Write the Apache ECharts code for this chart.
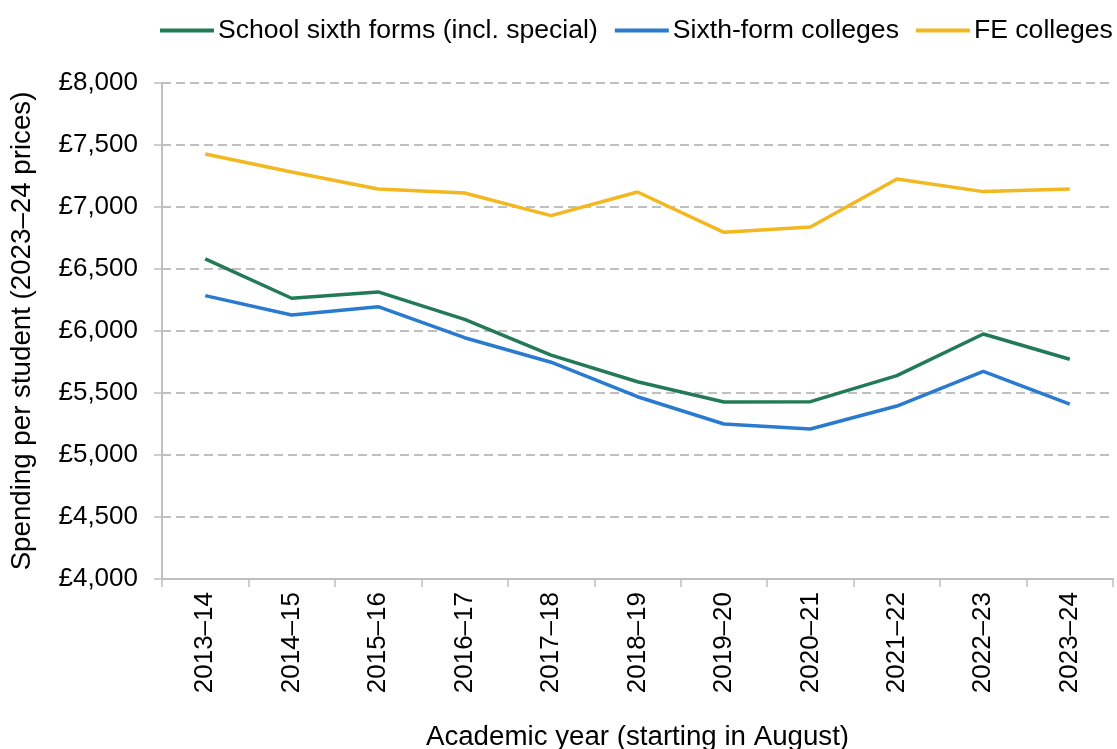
<!DOCTYPE html>
<html>
<head>
<meta charset="utf-8">
<script src="https://cdn.jsdelivr.net/npm/echarts@6/dist/echarts.min.js"></script>
<style>
  html, body { margin: 0; padding: 0; background: #fff; }
  #chart { width: 1117px; height: 749px; }
</style>
</head>
<body>
<div id="chart"></div>
<script>
var years = ['2013–14', '2014–15', '2015–16', '2016–17', '2017–18', '2018–19', '2019–20', '2020–21', '2021–22', '2022–23', '2023–24'];
var schoolSixth = [6581, 6264, 6315, 6094, 5806, 5591, 5427, 5430, 5640, 5976, 5772];
var sixthFormColleges = [6285, 6129, 6196, 5946, 5748, 5470, 5250, 5210, 5395, 5675, 5411];
var feColleges = [7427, 7282, 7145, 7113, 6930, 7121, 6796, 6839, 7226, 7124, 7145];

var font = 'Liberation Sans, Arial, sans-serif';
var myChart = echarts.init(document.getElementById('chart'));

var mkLine = function (name, data, color) {
    return {
        name: name,
        type: 'line',
        data: data,
        symbol: 'none',
        lineStyle: {width: 3.5, color: color},
        itemStyle: {color: color}
    };
};

var option = {
    animation: false,
    grid: {left: 162, right: 4, top: 83, bottom: 170, outerBoundsMode: 'none', containLabel: false},
    legend: {
        top: 17,
        left: 160,
        width: 1000,
        padding: 0,
        itemWidth: 54,
        itemHeight: 4,
        itemGap: 17,
        icon: 'rect',
        textStyle: {fontFamily: font, fontSize: 26.6, color: '#000', padding: [0, 0, 0, -1]},
        data: ['School sixth forms (incl. special)', 'Sixth-form colleges', 'FE colleges']
    },
    xAxis: {
        type: 'category',
        data: years,
        boundaryGap: true,
        axisLine: {lineStyle: {color: '#bfbfbf', width: 2}},
        axisTick: {show: true, length: 8, lineStyle: {color: '#bfbfbf', width: 1.5}},
        axisLabel: {rotate: 90, fontFamily: font, fontSize: 26, color: '#000', margin: 13},
        name: 'Academic year (starting in August)',
        nameLocation: 'middle',
        nameGap: 144,
        nameTextStyle: {fontFamily: font, fontSize: 27.7, color: '#000'}
    },
    yAxis: {
        type: 'value',
        min: 4000,
        max: 8000,
        interval: 500,
        axisLine: {show: true, lineStyle: {color: '#bfbfbf', width: 2}},
        axisTick: {show: true, length: 8, lineStyle: {color: '#bfbfbf', width: 1.5}},
        splitLine: {lineStyle: {color: '#bfbfbf', type: [9, 5], width: 2}},
        axisLabel: {
            fontFamily: font, fontSize: 26, color: '#000', margin: 24,
            formatter: function (v) { return '£' + v.toLocaleString('en-GB'); }
        },
        name: 'Spending per student (2023–24 prices)',
        nameLocation: 'middle',
        nameGap: 126,
        nameTextStyle: {fontFamily: font, fontSize: 27.7, color: '#000'}
    },
    series: [
        mkLine('School sixth forms (incl. special)', schoolSixth, '#237a57'),
        mkLine('Sixth-form colleges', sixthFormColleges, '#2a7bd0'),
        mkLine('FE colleges', feColleges, '#f3b71f')
    ]
};
myChart.setOption(option);
</script>
</body>
</html>
